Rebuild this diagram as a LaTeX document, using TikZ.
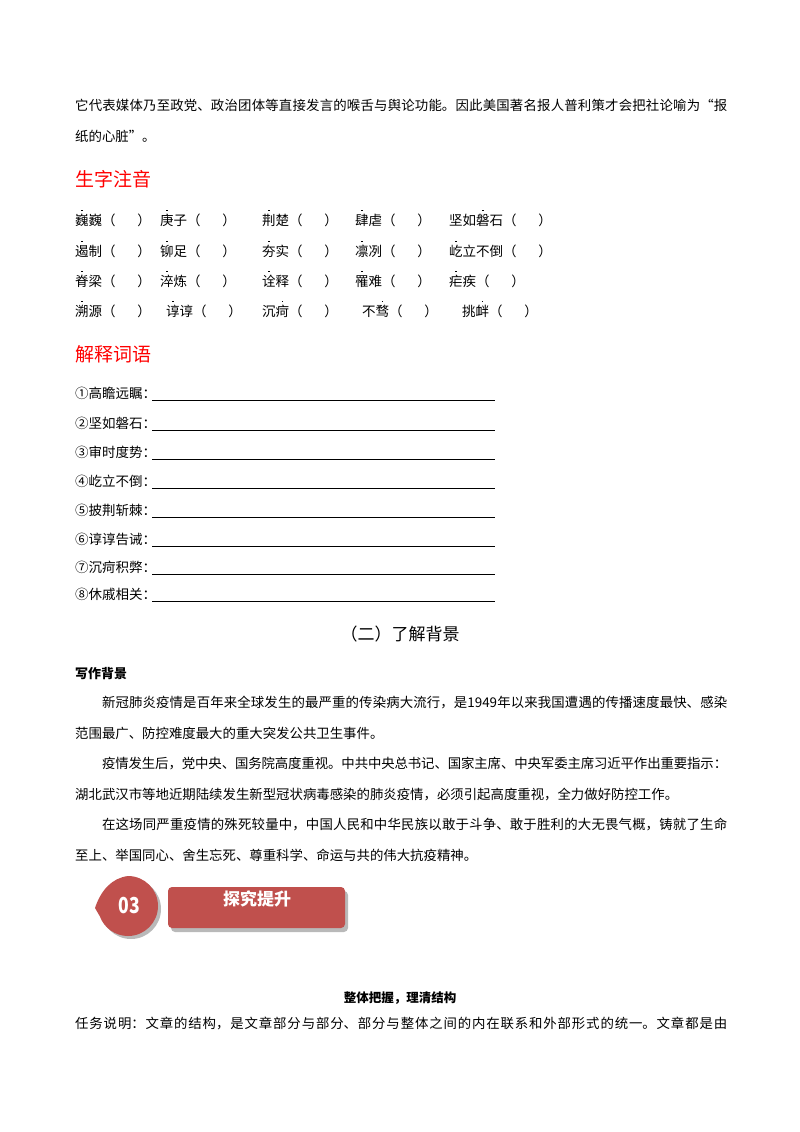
\documentclass[tikz,border=0pt]{standalone}
\usepackage{fontspec}
\setmainfont{Noto Sans CJK SC}
\usetikzlibrary{calc}
\XeTeXlinebreaklocale "zh"
\XeTeXlinebreakskip=0pt plus 1pt minus 0.6pt
\definecolor{hred}{HTML}{FF0000}
\definecolor{badge}{HTML}{C0504D}
\newcommand\zd[1]{\ooalign{#1\cr\hidewidth\raisebox{1.05em}{\rule{1.3pt}{1.3pt}}\hidewidth\cr}}
\newcommand\kh{（\hspace{1.6em}）}
\begin{document}
\begin{tikzpicture}[x=1pt,y=-1pt,
  body/.style={anchor=west,inner sep=0pt,font=\fontsize{13.5}{16}\selectfont},
  head/.style={anchor=west,inner sep=0pt,text=hred,font=\fontsize{19}{22}\selectfont},
  para/.style={anchor=north west,inner sep=0pt,text width=652pt,align=justify,font=\fontsize{13.4}{30.5}\selectfont},
  uline/.style={line width=0.6pt}]
\useasboundingbox (0,0) rectangle (800,1132);
\node[para] (p0) at (75,99) {它代表媒体乃至政党、政治团体等直接发言的喉舌与舆论功能。因此美国著名报人普利策才会把社论喻为“报\linebreak 纸的心脏”。};
\node[head] (h1) at (75,179) {生字注音};
\foreach \y/\a/\b/\c/\d/\e in {
 220/\zd{巍}巍/\zd{庚}子/\zd{荆}楚/\zd{肆}虐/坚如\zd{磐}石,
 251/\zd{遏}制/\zd{铆}足/\zd{夯}实/\zd{凛}冽/\zd{屹}立不倒,
 281/\zd{脊}梁/\zd{淬}炼/\zd{诠}释/\zd{罹}难/\zd{疟}疾}{
 \node[body] at (75,\y) {\a\kh};
 \node[body] at (160,\y) {\b\kh};
 \node[body] at (262,\y) {\c\kh};
 \node[body] at (355,\y) {\d\kh};
 \node[body] at (449,\y) {\e\kh};
}
\node[body] (r4a) at (75,311) {\zd{溯}源\kh};
\node[body] (r4b) at (166,311) {\zd{谆}谆\kh};
\node[body] (r4c) at (262,311) {沉\zd{疴}\kh};
\node[body] (r4d) at (362,311) {不\zd{骛}\kh};
\node[body] (r4e) at (462,311) {挑\zd{衅}\kh};
\node[head] (h2) at (75,354) {解释词语};
\foreach \y/\t in {393/①高瞻远瞩：,423/②坚如磐石：,452/③审时度势：,481/④屹立不倒：,510/⑤披荆斩棘：,539/⑥谆谆告诫：,567/⑦沉疴积弊：,594/⑧休戚相关：}{
 \node[body] at (75,\y) {\t};
 \draw[uline] (152,\y+7) -- (495,\y+7);
}
\node[inner sep=0pt,font=\fontsize{17}{20}\selectfont] (h3) at (400,634) {（二）了解背景};
\node[body,font=\fontsize{13}{16}\selectfont\bfseries] (h4) at (75,674) {写作背景};
\node[para] (p1) at (75,696) {\hspace*{2em}新冠肺炎疫情是百年来全球发生的最严重的传染病大流行，是1949年以来我国遭遇的传播速度最快、感染\linebreak 范围最广、防控难度最大的重大突发公共卫生事件。\par
\hspace*{2em}疫情发生后，党中央、国务院高度重视。中共中央总书记、国家主席、中央军委主席习近平作出重要指示：\linebreak 湖北武汉市等地近期陆续发生新型冠状病毒感染的肺炎疫情，必须引起高度重视，全力做好防控工作。\par
\hspace*{2em}在这场同严重疫情的殊死较量中，中国人民和中华民族以敢于斗争、敢于胜利的大无畏气概，铸就了生命\linebreak 至上、举国同心、舍生忘死、尊重科学、命运与共的伟大抗疫精神。};
% badge
\fill[gray!55] (131,909) circle (30);
\fill[gray!55,rounded corners=4] (171,891) rectangle (348,932);
\fill[badge,rounded corners=4] (168,887) rectangle (345,928);
\fill[badge] (95,908) .. controls (101,890) and (112,878) .. (128,876) arc[start angle=-90,end angle=160,radius=30] -- cycle;
\node[text=white,font=\fontsize{22}{22}\selectfont\bfseries,inner sep=0pt,xscale=0.8] (b3) at (129,906) {03};
\node[text=white,font=\fontsize{17}{20}\selectfont\bfseries,inner sep=0pt] (bt) at (257,899) {探究提升};
\node[inner sep=0pt,font=\fontsize{12.5}{15}\selectfont\bfseries] (h5) at (400,998) {整体把握，理清结构};
\node[para] (p2) at (75,1017) {任务说明：文章的结构，是文章部分与部分、部分与整体之间的内在联系和外部形式的统一。文章都是由\linebreak};
\end{tikzpicture}
\end{document}
